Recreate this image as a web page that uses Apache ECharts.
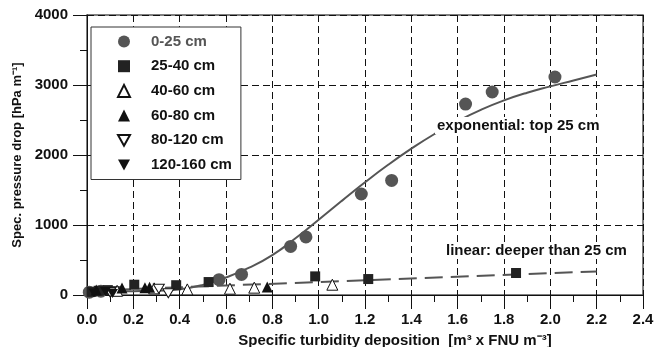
<!DOCTYPE html>
<html>
<head>
<meta charset="utf-8">
<script src="https://cdn.jsdelivr.net/npm/echarts@6/dist/echarts.min.js"></script>
<style>
html,body{margin:0;padding:0;background:#fff;}
#chart{width:656px;height:347px;}
</style>
</head>
<body>
<div id="chart"></div>
<script>
// ---- data ----
var xTicks = ['0.0','0.2','0.4','0.6','0.8','1.0','1.2','1.4','1.6','1.8','2.0','2.2','2.4'];
var yTicks = [0, 1000, 2000, 3000, 4000];
var seriesNames = ['0-25 cm','25-40 cm','40-60 cm','60-80 cm','80-120 cm','120-160 cm'];

var d0_25 = [[0.01,40],[0.06,55],[0.57,219],[0.667,294],[0.879,694],[0.945,829],[1.184,1443],[1.315,1637],[1.634,2728],[1.749,2900],[2.02,3114]];
var d25_40 = [[0.02,45],[0.05,60],[0.09,70],[0.12,55],[0.204,147],[0.385,140],[0.525,185],[0.985,266],[1.214,228],[1.852,314]];
var d40_60 = [[0.13,60],[0.29,95],[0.433,80],[0.617,90],[0.722,105],[1.059,147]];
var d60_80 = [[0.04,70],[0.151,100],[0.25,105],[0.27,112],[0.778,115]];
var d80_120 = [[0.1,35],[0.31,88],[0.351,25]];
var d120_160 = [[0.03,30],[0.08,50],[0.11,20]];

// fitted curves
var expFit = [[0,50],[0.1,52],[0.2,55],[0.3,62],[0.4,82],[0.5,145],[0.6,250],[0.7,390],[0.8,570],[0.9,810],[1.0,1075],[1.1,1345],[1.2,1610],[1.3,1860],[1.4,2090],[1.5,2300],[1.6,2485],[1.7,2645],[1.8,2780],[1.9,2890],[2.0,2980],[2.1,3065],[2.2,3150]];
var linFit = [[0,60],[2.2,337]];

var FONT = '"Liberation Sans", Arial, Helvetica, sans-serif';
var downTri = 'path://M0,0 L10,0 L5,9 Z';

var chart = echarts.init(document.getElementById('chart'), null, {renderer:'canvas'});

function scatter(name, data, symbol, size, fill, border) {
  return {
    name: name, type: 'scatter', data: data, symbol: symbol, symbolSize: size, z: 5,
    symbolKeepAspect: true,
    itemStyle: {color: fill, borderColor: border, borderWidth: border ? 1 : 0, opacity: 1}
  };
}

var option = {
  animation: false,
  backgroundColor: '#fff',
  textStyle: {fontFamily: FONT},
  grid: {left: 87, right: 13, top: 15, bottom: 52, outerBoundsMode: 'none', containLabel: false,
    show: true, borderColor: '#555', borderWidth: 1.5, backgroundColor: 'transparent'},
  legend: {
    orient: 'vertical', left: 91, top: 27,
    padding: [7, 9, 7, 26],
    itemWidth: 12, itemHeight: 12, itemGap: 9.7,
    backgroundColor: '#fff', borderColor: '#333', borderWidth: 1,
    textStyle: {fontFamily: FONT, fontWeight: 'bold', fontSize: 15, color: '#111', lineHeight: 12, padding: [0,0,0,16]},
    data: [
      {name: seriesNames[0], textStyle: {color: '#555', padding: [0,0,0,16]}},
      {name: seriesNames[1]}, {name: seriesNames[2]}, {name: seriesNames[3]},
      {name: seriesNames[4]}, {name: seriesNames[5]}
    ]
  },
  xAxis: {
    type: 'value', min: 0, max: 2.4, interval: 0.2,
    name: 'Specific turbidity deposition  [m\u00B3 x FNU m\u207B\u00B3]',
    nameLocation: 'middle', nameGap: 38,
    nameTextStyle: {fontFamily: FONT, fontWeight: 'bold', fontSize: 15, color: '#111', padding: [0,0,0,60]},
    axisLine: {show: true, lineStyle: {color: '#111', width: 1}},
    axisTick: {show: true, inside: false, length: 14, lineStyle: {color: '#111'}},
    minorTick: {show: true, splitNumber: 2, length: 7, lineStyle: {color: '#111'}},
    axisLabel: {margin: 17, fontFamily: FONT, fontWeight: 'bold', fontSize: 15, color: '#111',
      formatter: function(v){ var i = Math.round(v/0.2); return xTicks[i] !== undefined ? xTicks[i] : v.toFixed(1); }},
    splitLine: {show: true, lineStyle: {color: '#111', type: [7,4], width: 1}}
  },
  yAxis: {
    type: 'value', min: 0, max: 4000, interval: 1000,
    name: 'Spec. pressure drop [hPa m\u207B\u00B9]',
    nameLocation: 'middle', nameGap: 63, nameRotate: 90,
    nameTextStyle: {fontFamily: FONT, fontWeight: 'bold', fontSize: 13, color: '#111'},
    axisLine: {show: true, lineStyle: {color: '#111', width: 1}},
    axisTick: {show: true, inside: false, length: 14, lineStyle: {color: '#111'}},
    minorTick: {show: true, splitNumber: 2, length: 7, lineStyle: {color: '#111'}},
    axisLabel: {margin: 19, fontFamily: FONT, fontWeight: 'bold', fontSize: 15, color: '#111',
      formatter: function(v){ return yTicks.indexOf(v) >= 0 ? String(v) : ''; }},
    splitLine: {show: true, lineStyle: {color: '#111', type: [7,4], width: 1}}
  },
  series: [
    {name: 'exp', type: 'line', data: expFit, smooth: true, showSymbol: false, z: 3,
      lineStyle: {color: '#555', width: 2}},
    {name: 'lin', type: 'line', data: linFit, showSymbol: false, z: 3,
      lineStyle: {color: '#555', width: 2, type: [18, 8]}},
    scatter(seriesNames[0], d0_25, 'circle', 13, '#555', null),
    scatter(seriesNames[1], d25_40, 'rect', 10, '#222', null),
    scatter(seriesNames[2], d40_60, 'triangle', 11, '#fff', '#111'),
    scatter(seriesNames[3], d60_80, 'triangle', 11, '#111', null),
    scatter(seriesNames[4], d80_120, downTri, [11,10], '#fff', '#111'),
    scatter(seriesNames[5], d120_160, downTri, [11,10], '#111', null)
  ],
  graphic: [
    {type: 'text', left: 435, top: 117, z: 10,
      style: {text: 'exponential: top 25 cm', font: 'bold 15px ' + FONT, fill: '#111', backgroundColor: '#fff', padding: [1,2,1,2]}},
    {type: 'text', left: 444, top: 242, z: 10,
      style: {text: 'linear: deeper than 25 cm', font: 'bold 15px ' + FONT, fill: '#111', backgroundColor: '#fff', padding: [1,2,1,2]}}
  ]
};
chart.setOption(option);
</script>
</body>
</html>
